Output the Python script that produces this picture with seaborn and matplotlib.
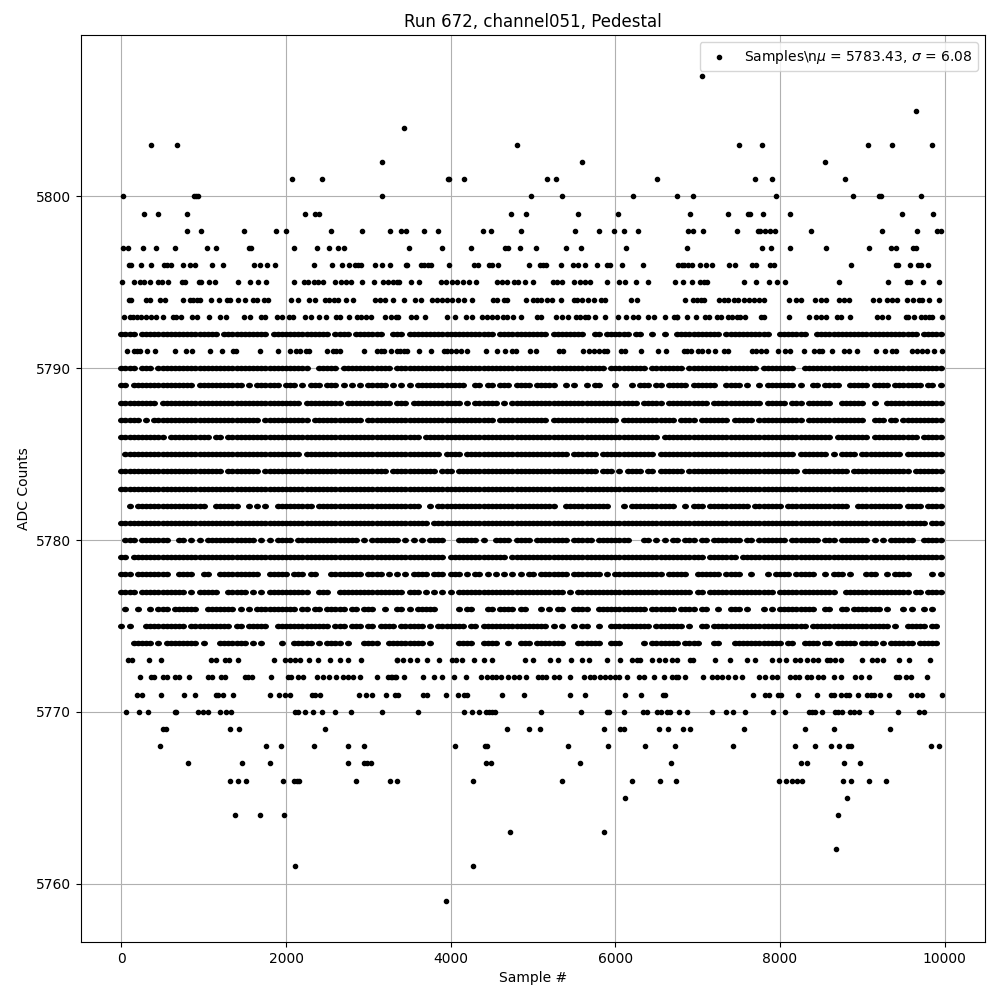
# plot.py
# Pedestal samples, run 672 channel 051, read off the picture level by level

import pandas as pd
import matplotlib
matplotlib.use("Agg")
import matplotlib.pyplot as plt
from matplotlib.path import Path
from matplotlib.transforms import Affine2D
import seaborn as sns

# Sparse ADC levels: sample numbers of each visible point
s5807 = [7051]
s5805 = [9655]
s5804 = [3438]
s5803 = [360, 676, 4808, 7501, 7781, 9071, 9363, 9850]
s5802 = [3167, 5596, 8548]
s5801 = [2074, 2438, 3964, 3975, 4166, 5172, 5281, 6505, 7696, 7903, 8791]
s5800 = [20, 883, 903, 927, 3167, 4978, 5353, 6214, 6747, 6949, 7951, 8888, 9200, 9230, 9716]
s5799 = [275, 445, 798, 2232, 2357, 2398, 4735, 4917, 5547, 6032, 6905, 7367, 7611, 7639,
         7793, 8122, 9485, 9862]
s5798 = [798, 968, 1490, 1879, 2000, 2547, 2924, 3264, 3398, 3455, 3681, 3851, 4396, 4493,
         4856, 5511, 5802, 5984, 6105, 6275, 6888, 6940, 7063, 7477, 7732, 7760, 7822, 7882,
         7943, 8377, 9241, 9667, 9911, 9951]
s5797 = [20, 81, 263, 421, 652, 1041, 1150, 1547, 1575, 2098, 2377, 2523, 2632, 2705, 3499,
         3899, 4250, 4662, 4699, 4844, 5038, 5402, 5584, 6129, 6872, 7777, 7886, 8122, 8560,
         9083, 9351, 9412, 9619, 9655]
s5796 = [89, 121, 239, 360, 518, 555, 603, 749, 834, 895, 1102, 1235, 1612, 1685, 1770, 1867,
         2341, 2560, 2681, 2766, 2843, 2876, 2912, 3082, 3167, 3264, 3455, 3475, 3644, 3677,
         3729, 3765, 3984, 4287, 4335, 4469, 4505, 4578, 4953, 5087, 5123, 5160, 5341, 5487,
         5547, 5632, 5778, 5899, 5935, 6081, 6335, 6759, 6808, 6832, 6888, 6929, 7030, 7099,
         7172, 7379, 7456, 7659, 7708, 7878, 7931, 8864, 9412, 9436, 9582, 9680, 9716, 9801]
s5795 = [8, 154, 227, 275, 348, 445, 498, 567, 737, 773, 940, 968, 1065, 1138, 1418, 1563,
         1660, 1757, 2098, 2220, 2270, 2340, 2392, 2450, 2592, 2673, 2734, 2795, 2924, 3070,
         3180, 3240, 3300, 3370, 3350, 3515, 3616, 3879, 3939, 4020, 4081, 4154, 4226, 4311,
         4566, 4626, 4687, 4772, 4820, 4905, 5002, 5244, 5292, 5353, 5495, 5576, 5636, 5689,
         5899, 6044, 6117, 6250, 6396, 6726, 6820, 6929, 7030, 7071, 7112, 7562, 7712, 7866,
         7963, 8061, 8718, 9314, 9545, 9574, 9740, 9935]
s5794 = [89, 121, 304, 352, 470, 530, 745, 830, 871, 919, 960, 1090, 1187, 1284, 1324, 1418,
         1503, 1600, 1648, 1733, 1782, 2066, 2147, 2280, 2357, 2471, 2523, 2580, 2628, 2730,
         2815, 3078, 3139, 3200, 3300, 3438, 3572, 3644, 3778, 3838, 3899, 3960, 4012, 4093,
         4166, 4259, 4517, 4566, 4646, 4687, 4917, 5002, 5050, 5103, 5172, 5232, 5341, 5499,
         5535, 5596, 5668, 5737, 5826, 5871, 6190, 6262, 6842, 6940, 6989, 7038, 7079, 7254,
         7314, 7367, 7444, 7485, 7558, 7619, 7680, 7740, 7801, 8110, 8195, 8256, 8426, 8499,
         8560, 8718, 8779, 8836, 9132, 9205, 9302, 9363, 9424, 9546, 9619, 9688, 9728, 9813, 9931]
s5793 = [32, 109, 142, 194, 243, 304, 356, 417, 506, 628, 668, 721, 859, 919, 1065, 1203,
         1268, 1490, 1563, 1701, 1741, 1891, 1952, 2037, 2086, 2232, 2304, 2402, 2487, 2608,
         2653, 2766, 2863, 2916, 2977, 3037, 3204, 3281, 3361, 3342, 3515, 3576, 3693, 3952,
         4053, 4186, 4263, 4384, 4444, 4505, 4566, 4638, 4687, 4756, 4856, 5050, 5099, 5285,
         5353, 5426, 5523, 5576, 5636, 5668, 5753, 5875, 6036, 6129, 6214, 6275, 6396, 6469,
         6602, 6707, 6747, 6755, 6872, 6981, 7091, 7140, 7233, 7282, 7367, 7416, 7477, 7518,
         7574, 7773, 7801, 8110, 8353, 8438, 8499, 8560, 8694, 8742, 8852, 9180, 9241, 9314,
         9525, 9558, 9627, 9708, 9757, 9810, 9850, 9971]
s5791 = [69, 150, 190, 223, 312, 409, 652, 786, 859, 1077, 1223, 1357, 1397, 1685, 1904, 2049,
         2126, 2175, 2248, 2280, 2499, 2572, 2612, 2660, 2944, 3110, 3159, 3187, 3280, 3349,
         3386, 3434, 3475, 3620, 3766, 3919, 3960, 4008, 4061, 4121, 4202, 4424, 4566, 4654,
         4747, 4788, 4966, 5038, 5313, 5366, 5608, 5677, 5737, 5798, 5858, 5899, 6068, 6121,
         6311, 6517, 6614, 6828, 6868, 6921, 7002, 7051, 7124, 7213, 7314, 7367, 7659, 7708,
         7769, 7834, 7976, 8057, 8126, 8292, 8414, 8479, 8511, 8637, 8775, 8836, 8937, 9168,
         9278, 9363, 9412, 9607, 9667, 9728, 9789, 9874, 9972]
s5773 = [81, 134, 336, 482, 1085, 1146, 1255, 1308, 1418, 1855, 1984, 2045, 2106, 2171, 2280,
         2385, 2535, 2653, 2754, 2912, 3353, 3345, 3426, 3507, 3588, 3717, 3859, 4020, 4061,
         4141, 4283, 4404, 4505, 4897, 5002, 5208, 5305, 5467, 5596, 5677, 5899, 6061, 6202,
         6262, 6303, 6444, 6525, 6606, 6687, 6755, 6905, 6945, 7213, 7387, 7598, 7692, 7903,
         7992, 8073, 8187, 8240, 8329, 8401, 8462, 8572, 8613, 8673, 8742, 8998, 9120, 9180,
         9254, 9448, 9570, 9826]
s5772 = [227, 365, 397, 506, 555, 652, 697, 822, 1053, 1102, 1207, 1255, 1503, 1539, 1592,
         1818, 2025, 2066, 2147, 2207, 2377, 2450, 2523, 2612, 2693, 2754, 2815, 2900, 3106,
         3240, 3293, 3337, 3272, 3325, 3438, 3669, 3802, 3899, 4036, 4190, 4372, 4444, 4505,
         4554, 4606, 4699, 4768, 4836, 4917, 5062, 5111, 5160, 5256, 5317, 5450, 5620, 5693,
         5745, 5810, 5879, 5939, 6000, 6044, 6141, 6283, 6343, 6464, 6586, 6687, 6735, 6767,
         6848, 7063, 7172, 7233, 7294, 7367, 7449, 7537, 7748, 7822, 7903, 7963, 8122, 8187,
         8235, 8329, 8381, 8462, 8523, 8661, 8746, 8917, 8986, 9083, 9404, 9444, 9525, 9594, 9789]
s5771 = [190, 251, 482, 761, 895, 1150, 1174, 1235, 1357, 1806, 1916, 1989, 2045, 2317, 2349,
         2414, 2888, 2973, 3046, 3216, 3325, 3366, 3669, 3717, 3947, 4093, 4166, 4198, 4626,
         4893, 5450, 5632, 6117, 6311, 6578, 6602, 7671, 7817, 7866, 7976, 8016, 8219, 8450,
         8621, 8657, 8742, 8807, 8836, 8950, 9059, 9107, 9144, 9217, 9327, 9594, 9667, 9728, 9972]
s5770 = [57, 215, 324, 648, 668, 931, 992, 1053, 1199, 1276, 1332, 2110, 2151, 2232, 2329,
         2438, 2596, 2790, 3167, 3604, 4166, 4259, 4347, 4424, 4465, 4505, 4542, 5099, 5584,
         5899, 5927, 6101, 6335, 6384, 6505, 6557, 6626, 6666, 6775, 6868, 7172, 7343, 7428,
         7574, 7915, 8061, 8353, 8389, 8430, 8511, 8669, 8706, 8754, 8852, 8897, 8961, 9107,
         9436, 9692, 9753]
s5769 = [506, 547, 1320, 1430, 2475, 4687, 4953, 5087, 5862, 6056, 6105, 6525, 6634, 6819,
         6905, 7562, 8304, 8657, 9339]
s5768 = [470, 1758, 1940, 2341, 2754, 2948, 4057, 4416, 4440, 5426, 5911, 6360, 6722, 7428,
         8183, 8426, 8625, 8722, 8827, 8860, 9838, 9935]
s5767 = [810, 1466, 1806, 2754, 2948, 2985, 3033, 4432, 4493, 5572, 6674, 8256, 8329, 8779, 8974]
s5766 = [1320, 1417, 1515, 1964, 2094, 2130, 2159, 2851, 3264, 3349, 4275, 5353, 6202, 6541,
         6734, 7988, 8073, 8142, 8207, 8268, 8767, 8864, 9083, 9290]
s5765 = [6117, 8815]
s5764 = [1381, 1685, 1976, 8710]
s5763 = [4723, 5862]
s5762 = [8682]
s5761 = [2110, 4275]
s5759 = [3947]

sparse_levels = {
    5807: s5807, 5805: s5805, 5804: s5804, 5803: s5803, 5802: s5802, 5801: s5801,
    5800: s5800, 5799: s5799, 5798: s5798, 5797: s5797, 5796: s5796, 5795: s5795,
    5794: s5794, 5793: s5793, 5791: s5791, 5773: s5773, 5772: s5772, 5771: s5771,
    5770: s5770, 5769: s5769, 5768: s5768, 5767: s5767, 5766: s5766, 5765: s5765,
    5764: s5764, 5763: s5763, 5762: s5762, 5761: s5761, 5759: s5759,
}

# Dense ADC levels: one character per 50 samples, '#' = a point seen there
m5792 = "####.##### ########## ####.##### ######.### ########## #.####.### ####..###. ########## ########## #.######## ####.##### ###..##.## ####.##..# ..#..##### ######.### ########.. #######..# ########## ########## ####.#####"
m5790 = "####.###.# ########## ########## ########## ######..## ###.###### ######.### ########## ########## ########## ########## ########.# ########.# #######.## ########## #####.#### ####..#### ########## ########## ##########"
m5789 = "##.####### ########.# ########## .#.######. ###.#.###. ###.#.#.#. #####.#.#. #.######## ####..##.# #.###.#### .#####..#. #..#.##... #...#.###. ##.#####.# #####..### #.#..#.### ####.#..## .####..### ##.####.## #####.##.#"
m5788 = "#########. ########## ########## ########## ####.##### ####.##### ######.### .######### ###.#.#### ##.#.##### ########## ########## ######.### ##.####### ###.###### ######.### ##.###.### ###..##### #..#..#### ##########"
m5787 = "#####.#.## ########## ########## ####.##### ######.### #########. ########## ########## ########## #.######## ####.##### ########## #.######## #####.#### .#######.# ####.##### ######.### ########## #..###.##. ##########"
m5786 = "########## #.######## ##.##.#### ########## ########## ########## ########## ###.###### ########## ########## ########## ########## ########## #.######## ########## ########## ########## ###.###### ##.####### ####.#####"
m5785 = ".######### ########## ########## ########## ####.##### ########## ########## ########.# ###.###### ########## #########. ######.### ########## .######### ########## ########## ####.##### ##.#.####. ########## .#########"
m5784 = "########## ########## #####.#### ####.##### ########## ########## #####.#### #######.## #.######## ########## ########## ######.### .#.####.## .######.## ########## ########## #####.#### #######.## ########## ##.#######"
m5783 = "########## ########## ########## ########## ########## ########## ########## ########## ########## ########## ########## ########## ########## ########## ########## ########## ########## ########## ########## ##########"
m5782 = "..#.###### ########## #..######. .#.#.#..## #######.## ########## ########## ###..#.### ########## ########## ######..## #########. ..#.###### #####..#.# ##.####### ###.###### #.######## #######..# ########## .####.####"
m5781 = "########## ########## ########## ########## ########## ########## ########## #####.#### ########## ########## ########## ########## ########## ########## ########## ########## ########## ########## ########## ######.###"
m5780 = ".###.##### ##..##.#.# .######### ###.#.#.## ##.####### ########.# .#######.# .#.#.####. ..#####.#. .####.#### .########. #####.#### ####...##. #.#.##.### .##.###### #.##.##### ##.####### .###.##### ##.#.#.### ###..#####"
m5779 = "##.####### ########## ########## ########## ########## ########## ########## #########. ########## ####.##### ########## ########## ########## ########## ##.####### .######### ########## ########## ########## ##########"
m5778 = "###.###### ##..####.. ##..###### ####..#### #.###.##.. .########. ####.#.#.# .####.###. ###.#.##.# .#.#.#.#.# #.#######. #######.#. ########## ##.#####.. ######.### #..#...#.# ###.#####. .#.###.#.. .###..#.## ##.....#.#"
m5777 = "####.##### ######.#.# ####..#### #.#.#.#### ######..## #..####### #########. ###.#.#.#. #.######## ########## ########.# .######### ########## #########. ##.####### #########. ########## ####..#### ########## ##.##.####"
m5776 = ".#..#..#.# ##.######. .#######.# .#.####### ###.##.##. #####.##.# ##..#..##. #.#####... ..#.##...# #.####.##. ..#.#.##.. ####..#### ########.# #####.#### .##..#..## #.#...#.#. #########. .##..##.## #####.#... #.#..#.#.."
m5775 = "#.#...#### ######.### #######.## .#####..## ########## #.###.###. ##.####.## ####.#.### ####.##.## ########## ####.#.#.. #.##..#..# #########. #######.#. .##.###### ########## #######.## ########## #######.#. .#####.##."
m5774 = "...#####.# .########. #...###### #.#.#....# ..#####.#. ####.#...# ###..##### ####.#.... ..####..## ##..#..### .#######.. .######..# ##.....#.# ######.### #...##...# ########## #.##..#### .##.#####. ####.#.### ###.#####."

dense_levels = {
    5792: m5792, 5790: m5790, 5789: m5789, 5788: m5788, 5787: m5787, 5786: m5786,
    5785: m5785, 5784: m5784, 5783: m5783, 5782: m5782, 5781: m5781, 5780: m5780,
    5779: m5779, 5778: m5778, 5777: m5777, 5776: m5776, 5775: m5775, 5774: m5774,
}
bin_width = 50

# Tables of samples
sparse_rows = []
for level, samples in sparse_levels.items():
    sparse_rows += [(s, level) for s in samples]
df_sparse = pd.DataFrame(sparse_rows, columns=["sample", "adc"])

dense_rows = []
for level, mask in dense_levels.items():
    cells = mask.replace(" ", "")
    dense_rows += [(i * bin_width, level) for i, c in enumerate(cells) if c == "#"]
df_dense = pd.DataFrame(dense_rows, columns=["sample", "adc"])

# Slightly wide dot for the 50-sample cells, so that runs close up as in the picture
wide_dot = Path.unit_circle().transformed(Affine2D().scale(1, 0.79))

fig, ax = plt.subplots(figsize=(10, 10), dpi=100)
sns.scatterplot(data=df_dense, x="sample", y="adc", color="k", marker=wide_dot, s=25.4,
                linewidth=0, zorder=2, legend=False, ax=ax)
sns.scatterplot(data=df_sparse, x="sample", y="adc", color="k", marker=".", s=36,
                linewidth=1, edgecolor="k", zorder=2, ax=ax,
                label=r"Samples\n$\mu$ = 5783.43, $\sigma$ = 6.08")
ax.set_xlim(-490, 10490)
ax.set_title("Run 672, channel051, Pedestal")
ax.set_xlabel("Sample #")
ax.set_ylabel("ADC Counts")
ax.grid(True)
ax.legend(loc="upper right")
fig.subplots_adjust(left=0.081, right=0.985, top=0.965, bottom=0.058)
fig.savefig("out.png")
plt.close(fig)
